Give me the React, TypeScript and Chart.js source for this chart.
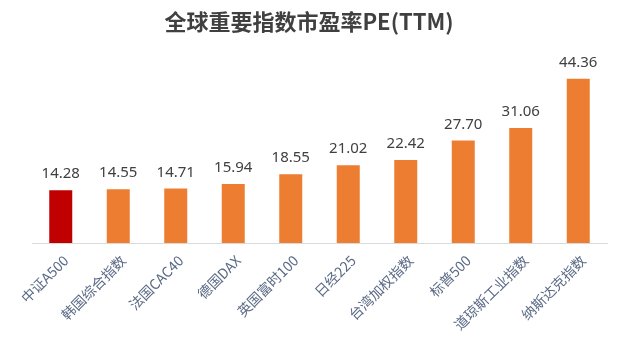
import React, { useEffect, useRef } from "react";
import { Chart, registerables } from "chart.js";

Chart.register(...registerables);

const categories = ["中证A500", "韩国综合指数", "法国CAC40", "德国DAX", "英国富时100", "日经225", "台湾加权指数", "标普500", "道琼斯工业指数", "纳斯达克指数"];
const peValues = [14.28, 14.55, 14.71, 15.94, 18.55, 21.02, 22.42, 27.7, 31.06, 44.36];
const barColors = ["#C00000", "#ED7D31", "#ED7D31", "#ED7D31", "#ED7D31", "#ED7D31", "#ED7D31", "#ED7D31", "#ED7D31", "#ED7D31"];
const titleText = "全球重要指数市盈率PE(TTM)";

const labelPlugin = {
  id: "labelsAndTitle",
  afterDatasetsDraw(chart: any) {
    const ctx = chart.ctx;
    const meta = chart.getDatasetMeta(0);
    ctx.save();
    ctx.fillStyle = "#404040";
    ctx.font = "15px 'Noto Sans', sans-serif";
    ctx.textAlign = "center";
    ctx.textBaseline = "alphabetic";
    meta.data.forEach((bar: any, i: number) => {
      ctx.fillText(peValues[i].toFixed(2), bar.x, bar.y - 12);
    });
    ctx.font = "bold 22px 'Noto Sans CJK SC', sans-serif";
    ctx.fillStyle = "#404040";
    ctx.textBaseline = "middle";
    ctx.fillText(titleText, 309, 22);
    ctx.restore();
  },
};

export default function App() {
  const ref = useRef<HTMLCanvasElement>(null);
  useEffect(() => {
    const chart = new Chart(ref.current as HTMLCanvasElement, {
      type: "bar",
      data: {
        labels: categories,
        datasets: [
          {
            data: peValues,
            backgroundColor: barColors,
            barPercentage: 0.4,
            categoryPercentage: 1,
          },
        ],
      },
      options: {
        animation: false,
        responsive: false,
        maintainAspectRatio: false,
        layout: { padding: { left: 32, right: 15, top: 58, bottom: 0 } },
        plugins: {
          legend: { display: false },
          title: { display: false },
          tooltip: { enabled: false },
        },
        scales: {
          x: {
            grid: { display: false, drawTicks: false },
            border: { display: true, color: "#D9D9D9", width: 1 },
            ticks: {
              color: "#5a6a85",
              font: { size: 14, family: "'Noto Sans CJK SC', sans-serif" },
              maxRotation: 45,
              minRotation: 45,
              autoSkip: false,
              padding: 9,
              labelOffset: 5,
            },
            afterFit(scale: any) {
              scale.height = 108;
            },
          },
          y: {
            display: false,
            min: 0,
            max: 50,
          },
        },
      },
      plugins: [labelPlugin],
    });
    return () => chart.destroy();
  }, []);
  return (
    <div style={{ position: "fixed", left: 0, top: 0, width: 622, height: 351, background: "#fff" }}>
      <canvas ref={ref} width={622} height={351} style={{ display: "block" }} />
    </div>
  );
}
